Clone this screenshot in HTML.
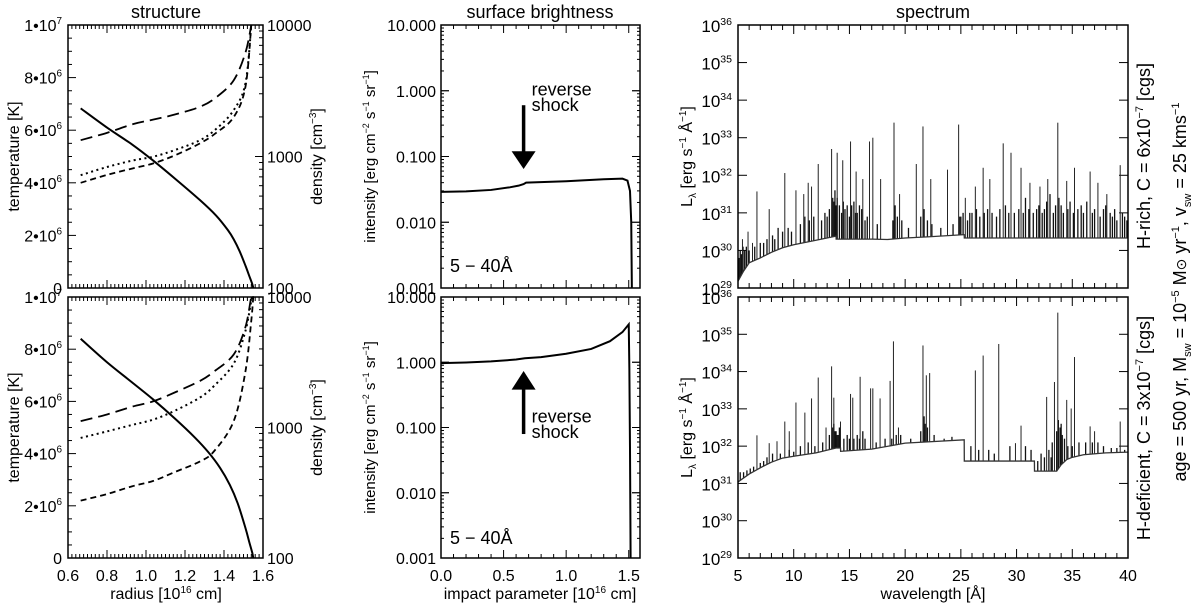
<!DOCTYPE html>
<html><head><meta charset="utf-8"><style>
html,body{margin:0;padding:0;background:#fff;}
svg{display:block;font-family:"Liberation Sans",Arial,sans-serif;}
</style></head><body>
<svg id="chart" width="1200" height="604" viewBox="0 0 1200 604" xmlns="http://www.w3.org/2000/svg"></svg>
<script>
// ---------- DATA ----------
const rTop = [0.665,0.8,0.93,1.036,1.15,1.277,1.36,1.42,1.45,1.48,1.51,1.53,1.545,1.55];
const tempTop = [6.83e6,6.1e6,5.45e6,4.85e6,4.15e6,3.34e6,2.75e6,2.2e6,1.85e6,1.4e6,0.85e6,0.45e6,0.15e6,0];
const rDen = [0.665,0.8,0.933,1.036,1.15,1.277,1.36,1.45,1.51,1.54];
const denLongTop = [3.124,3.18,3.246,3.28,3.32,3.378,3.45,3.58,3.79,4.0];
const denDotTop  = [2.858,2.92,2.97,2.998,3.05,3.124,3.21,3.353,3.556,4.0];
const denShortTop= [2.80,2.86,2.91,2.947,3.01,3.10,3.18,3.30,3.53,4.0];
const rBot = [0.665,0.8,0.93,1.036,1.15,1.25,1.32,1.38,1.43,1.47,1.51,1.53,1.545,1.55];
const tempBot = [8.4e6,7.5e6,6.72e6,6.08e6,5.33e6,4.62e6,4.05e6,3.45e6,2.8e6,2.1e6,1.15e6,0.6e6,0.2e6,0];
const rDenB = [0.665,0.8,0.93,1.036,1.15,1.277,1.35,1.45,1.51,1.54,1.55];
const denLongBot = [3.049,3.1,3.16,3.2,3.27,3.357,3.43,3.56,3.77,4.0,4.0];
const denDotBot  = [2.92,2.97,3.02,3.06,3.13,3.23,3.32,3.49,3.74,3.97,4.0];
const denShortBot= [2.44,2.49,2.55,2.59,2.66,2.74,2.82,3.05,3.43,3.82,4.0];
const bTop = [0,0.2,0.4,0.55,0.62,0.66,0.68,1.0,1.3,1.45,1.49,1.51,1.52,1.525];
const iTop = [0.029,0.0295,0.031,0.034,0.036,0.038,0.040,0.042,0.045,0.046,0.043,0.03,0.01,0.001];
const bBot = [0,0.2,0.4,0.6,0.67,0.8,1.0,1.2,1.35,1.45,1.5,1.505,1.51,1.515];
const iBot = [0.97,0.99,1.03,1.1,1.15,1.2,1.35,1.6,2.1,2.9,3.8,0.8,0.05,0.001];
const contLamTop=[5,5.5,6,7,8,9,10,12,13.8,13.81,17,18.4,18.41,20,22,25.3,25.31,40];
const contLogTop=[29.18,29.45,29.67,29.8,29.95,30.07,30.15,30.27,30.38,30.3,30.3,30.29,30.29,30.33,30.36,30.42,30.33,30.33];
const contLamBot=[5,6,7,8,9,10,12,13.8,14.2,14.21,17,20,25.3,25.31,31.6,31.61,33.6,34,34.5,35,36,38,40];
const contLogBot=[31.04,31.25,31.42,31.57,31.68,31.73,31.82,31.95,31.95,31.86,31.92,32.08,32.17,31.6,31.6,31.33,31.33,31.5,31.64,31.7,31.77,31.82,31.84];
const linesTop=[[6.7,31.57],[7.8,31.1],[9.2,32.06],[10.2,31.6],[11.3,31.8],[12.2,32.3],[13.4,32.7],[13.9,32.6],[15.1,32.9],[16.8,32.9],[17.1,33.0],[17.8,31.9],[19.0,33.4],[19.5,31.5],[21.0,32.3],[21.6,33.3],[23.8,32.15],[24.8,33.35],[26.3,31.7],[27.0,32.2],[28.8,32.85],[29.5,32.6],[30.4,32.2],[31.2,31.8],[32.1,31.7],[33.7,33.4],[34.5,31.85],[35.2,32.2],[36.6,32.1],[38.1,31.5],[39.3,32.27],[5.4,30.3],[5.9,30.5],[6.3,30.2],[10.9,31.5],[11.6,31.7],[14.4,32.4],[15.6,32.1],[16.2,31.9],[22.3,31.9],[25.4,31.4],[27.6,31.9],[32.8,31.9],[37.3,31.8]];
const forestTop=[[5.1,29.8],[5.2,30.0],[5.3,29.9],[5.45,30.1],[5.6,30.0],[5.75,30.1],[6.0,30.0],[6.5,30.1],[7.0,30.2],[7.3,30.2],[7.6,30.3],[8.1,30.4],[8.3,30.3],[8.6,30.6],[9.0,30.5],[9.5,30.6],[9.8,30.5],[10.6,30.7],[11.0,30.9],[11.4,30.8],[11.8,30.9],[12.5,30.8],[12.8,31.0],[13.0,30.9],[13.2,31.1],[13.5,31.4],[13.6,31.3],[13.7,31.6],[13.8,31.2],[13.9,31.4],[14.1,31.2],[14.3,31.0],[14.45,31.3],[14.6,31.1],[14.8,31.2],[15.0,30.9],[15.2,31.2],[15.4,31.3],[15.55,31.0],[15.7,31.0],[15.9,31.2],[16.1,31.1],[16.4,30.8],[16.6,30.9],[17.5,30.7],[18.9,30.8],[19.1,31.2],[19.3,30.9],[19.7,30.8],[20.3,30.6],[21.4,30.9],[21.7,31.1],[22.0,30.8],[22.4,30.7],[23.2,30.6],[24.3,30.7],[24.9,30.9],[25.0,30.9],[25.2,31.0],[25.6,30.8],[25.8,31.0],[26.0,31.0],[26.4,31.1],[26.7,30.9],[27.1,31.0],[27.4,31.1],[27.8,31.0],[28.2,30.9],[28.5,31.1],[29.0,31.2],[29.3,31.0],[29.8,31.0],[30.2,31.1],[30.6,31.0],[30.8,31.4],[31.1,31.1],[31.5,31.0],[31.8,31.1],[32.0,31.2],[32.3,31.0],[32.5,31.1],[32.7,31.3],[33.0,31.5],[33.3,31.0],[33.5,31.2],[33.8,31.4],[34.0,31.2],[34.2,31.0],[34.6,31.1],[34.8,31.3],[35.1,31.0],[35.5,31.1],[35.8,31.2],[36.0,31.0],[36.3,31.3],[36.8,31.0],[37.0,31.1],[37.5,30.9],[37.8,31.1],[38.0,31.2],[38.4,31.0],[38.6,30.9],[38.8,31.1],[39.0,30.8],[39.5,31.0],[39.7,30.9],[39.9,30.8]];
const linesBot=[[6.7,32.29],[7.8,32.08],[8.5,32.13],[9.2,32.66],[10.2,33.17],[11.0,32.9],[11.6,33.28],[12.2,33.84],[13.4,34.14],[14.2,32.66],[15.1,33.4],[15.96,33.86],[16.9,33.55],[17.1,33.55],[17.75,33.28],[18.65,33.75],[18.95,34.81],[19.4,32.5],[21.6,34.7],[21.9,33.9],[22.2,33.96],[26.3,34.03],[27.0,34.43],[28.4,34.74],[29.9,32.08],[30.4,32.55],[32.7,33.32],[33.4,33.72],[33.7,35.58],[34.5,33.24],[34.9,33.01],[35.2,34.39],[36.6,32.53],[37.0,32.4],[39.3,32.66],[13.6,33.3],[15.3,33.3],[12.9,32.5],[9.6,32.4]];
const forestBot=[[5.2,31.3],[5.5,31.3],[5.8,31.35],[6.1,31.4],[6.4,31.45],[7.0,31.55],[7.3,31.6],[7.6,31.7],[8.1,31.8],[8.8,31.8],[9.6,31.9],[10.0,31.85],[10.6,32.0],[11.3,32.1],[11.9,32.0],[12.6,32.1],[13.2,32.3],[13.5,32.5],[13.6,32.6],[13.7,32.4],[13.8,32.4],[13.9,32.3],[14.0,32.3],[14.1,32.5],[14.5,32.2],[14.8,32.3],[15.0,32.2],[15.4,32.2],[15.7,32.3],[15.9,32.2],[16.2,32.4],[16.4,32.2],[17.4,32.1],[18.2,32.2],[18.8,32.2],[19.2,32.3],[19.6,32.3],[20.5,32.2],[21.4,32.4],[21.7,32.8],[21.8,32.6],[22.0,32.5],[22.6,32.3],[23.5,32.2],[24.2,32.25],[25.9,32.0],[26.6,31.9],[27.5,31.9],[28.0,31.8],[29.4,32.0],[30.8,32.0],[31.3,31.9],[31.9,31.6],[32.2,31.8],[32.5,31.7],[32.9,31.9],[33.1,31.7],[33.2,32.1],[33.6,32.4],[33.75,32.7],[33.9,32.5],[34.0,32.6],[34.1,32.3],[34.3,32.2],[34.6,32.0],[35.0,32.0],[35.6,32.1],[36.2,32.1],[36.8,32.1],[37.3,32.1],[37.8,32.0],[38.5,31.95],[39.0,31.95],[39.7,31.9]];
const tempTicks=[0,2e6,4e6,6e6,8e6,1e7];
const tempTickLabels=[["0",""],["2•10","6"],["4•10","6"],["6•10","6"],["8•10","6"],["1•10","7"]];
const rTicks=[0.6,0.8,1.0,1.2,1.4,1.6];
const rTickLabels=["0.6","0.8","1.0","1.2","1.4","1.6"];
const denTickLabels=["100","1000","10000"];
const iTickLabels=["0.001","0.010","0.100","1.000","10.000"];
const bTicks=[0,0.5,1.0,1.5];
const bTickLabels=["0.0","0.5","1.0","1.5"];
const lamTicks=[5,10,15,20,25,30,35,40];
const lamTickLabels=["5","10","15","20","25","30","35","40"];
const specDecades=[29,30,31,32,33,34,35,36];

// ---------- HELPERS ----------
const NS="http://www.w3.org/2000/svg";
const svg=document.getElementById('chart');
function mk(tag,attrs,parent){const e=document.createElementNS(NS,tag);for(const k in attrs)e.setAttribute(k,attrs[k]);(parent||svg).appendChild(e);return e;}
const PANELS={top:[25,288],bot:[297,558]};
const LX=[68,263], MX=[441,640], SX=[738,1128];
function lin(d0,d1,r0,r1){return v=>r0+(v-d0)/(d1-d0)*(r1-r0);}
function interp(xs,ys,x){for(let i=0;i<xs.length-1;i++){if(x>=xs[i]&&x<=xs[i+1]){const t=(x-xs[i])/(xs[i+1]-xs[i]||1);return ys[i]+t*(ys[i+1]-ys[i]);}}return x<xs[0]?ys[0]:ys[ys.length-1];}
function smoothPath(pts){let d="M"+pts[0][0]+","+pts[0][1];for(let i=0;i<pts.length-1;i++){const p0=pts[i-1]||pts[i],p1=pts[i],p2=pts[i+1],p3=pts[i+2]||p2;const c1x=p1[0]+(p2[0]-p0[0])/6,c1y=p1[1]+(p2[1]-p0[1])/6,c2x=p2[0]-(p3[0]-p1[0])/6,c2y=p2[1]-(p3[1]-p1[1])/6;d+=`C${c1x.toFixed(2)},${c1y.toFixed(2)} ${c2x.toFixed(2)},${c2y.toFixed(2)} ${p2[0].toFixed(2)},${p2[1].toFixed(2)}`;}return d;}
function polyPath(pts){return "M"+pts.map(p=>p[0].toFixed(2)+","+p[1].toFixed(2)).join("L");}
function txt(x,y,s,attrs){const t=mk('text',Object.assign({x:x,y:y,'font-size':16,fill:'#000'},attrs||{}));t.textContent=s;return t;}
function supText(x,y,base,sup,anchor,size){const t=mk('text',{x:x,y:y,'font-size':size||16,'text-anchor':anchor||'end',fill:'#000'});const a=mk('tspan',{},t);a.textContent=base;if(sup){const b=mk('tspan',{dy:-7,'font-size':(size||16)*0.62},t);b.textContent=sup;}return t;}
function tick(x1,y1,x2,y2,name){const l=mk('line',{x1:x1,y1:y1,x2:x2,y2:y2,stroke:'#000','stroke-width':1});return l;}
function box(x0,x1,y0,y1,name){const r=mk('rect',{x:x0,y:y0,width:x1-x0,height:y1-y0,fill:'none',stroke:'#000','stroke-width':1.5});}

// ---------- TITLES ----------
let t;
t=txt(166,18,"structure",{'text-anchor':'middle','font-size':18});

t=txt(540,18,"surface brightness",{'text-anchor':'middle','font-size':18});

t=txt(933,18,"spectrum",{'text-anchor':'middle','font-size':18});


// ---------- STRUCTURE PANELS ----------
function structurePanel(key,rT,temps,rD,dl,dd,ds){
  const [y0,y1]=PANELS[key];
  const X=lin(0.6,1.6,LX[0],LX[1]), YT=lin(0,1e7,y1,y0), YD=lin(2,4,y1,y0);
  box(LX[0],LX[1],y0,y1,'structure-'+key+'-frame');
  for(let v=0.6;v<=1.6001;v+=0.02){const x=X(v);const maj=Math.abs(v*10-Math.round(v*10))<1e-6&&Math.round(v*10)%2===0;const L=maj?8:4;tick(x,y1,x,y1-L,'r-tick');tick(x,y0,x,y0+L,'r-tick');}
  for(let v=0;v<=1e7;v+=5e5){const y=YT(v);const L=(v%2e6===0)?8:4;tick(LX[0],y,LX[0]+L,y,'temp-tick');}
  for(let d=2;d<4;d++){for(let m=1;m<=10;m++){const lv=d+Math.log10(m);const y=YD(lv);const L=(m===1||m===10)?8:4;tick(LX[1],y,LX[1]-L,y,'density-tick');}}
  tempTicks.forEach((v,i)=>{const s=supText(62,YT(v)+6,tempTickLabels[i][0],tempTickLabels[i][1],'end',16);});
  denTickLabels.forEach((s,i)=>{const e=txt(267,YD(2+i)+6,s);});
  let p=mk('path',{d:smoothPath(rT.map((r,i)=>[X(r),YT(temps[i])])),fill:'none',stroke:'#000','stroke-width':2});
  
  p=mk('path',{d:smoothPath(rD.map((r,i)=>[X(r),YD(dl[i])])),fill:'none',stroke:'#000','stroke-width':1.8,'stroke-dasharray':'12,6'});
  
  p=mk('path',{d:smoothPath(rD.map((r,i)=>[X(r),YD(dd[i])])),fill:'none',stroke:'#000','stroke-width':2,'stroke-dasharray':'2,3.5'});
  
  p=mk('path',{d:smoothPath(rD.map((r,i)=>[X(r),YD(ds[i])])),fill:'none',stroke:'#000','stroke-width':1.8,'stroke-dasharray':'6,4'});
  
  const yl=txt(0,0,"temperature [K]",{'text-anchor':'middle','font-size':16,transform:`translate(19,${(y0+y1)/2}) rotate(-90)`});
  
  const dt=mk('text',{'text-anchor':'middle','font-size':16,transform:`translate(322,${(y0+y1)/2}) rotate(-90)`});
  
  const a=mk('tspan',{},dt);a.textContent="density [cm";const b=mk('tspan',{dy:-6,'font-size':10},dt);b.textContent="−3";const c=mk('tspan',{dy:6},dt);c.textContent="]";
  if(key==='bot'){rTicks.forEach((v,i)=>{const e=txt(X(v),581,rTickLabels[i],{'text-anchor':'middle'});});}
}
structurePanel('top',rTop,tempTop,rDen,denLongTop,denDotTop,denShortTop);
structurePanel('bot',rBot,tempBot,rDenB,denLongBot,denDotBot,denShortBot);
let xt=mk('text',{x:166,y:599,'text-anchor':'middle','font-size':16});

(function(){const a=mk('tspan',{},xt);a.textContent="radius [10";const b=mk('tspan',{dy:-6,'font-size':10},xt);b.textContent="16";const c=mk('tspan',{dy:6},xt);c.textContent=" cm]";})();

// ---------- SURFACE BRIGHTNESS ----------
function sbPanel(key,bs,is,arrowUp){
  const [y0,y1]=PANELS[key];
  const X=lin(0,1.59,MX[0],MX[1]), Y=lin(-3,1,y1,y0);
  box(MX[0],MX[1],y0,y1,'sb-'+key+'-frame');
  for(let v=0;v<=1.59;v+=0.1){const x=X(v);const maj=Math.round(v*10)%5===0;const L=maj?8:4;tick(x,y1,x,y1-L,'b-tick');tick(x,y0,x,y0+L,'b-tick');}
  for(let d=-3;d<1;d++){for(let m=1;m<=10;m++){const y=Y(d+Math.log10(m));const L=(m===1||m===10)?8:3;tick(MX[0],y,MX[0]+L,y,'i-tick');tick(MX[1],y,MX[1]-L,y,'i-tick');}}
  iTickLabels.forEach((s,i)=>{const e=txt(436,Y(-3+i)+6,s,{'text-anchor':'end'});});
  const p=mk('path',{d:polyPath(bs.map((b,i)=>[X(b),Y(Math.log10(is[i]))])),fill:'none',stroke:'#000','stroke-width':2});
  
  const band=txt(450,272+(key==='bot'?y0-25:0),"5 − 40Å",{'font-size':18});
  
  const ax=X(0.66);
  let g=mk('g',{});
  if(!arrowUp){mk('line',{x1:ax,y1:Y(-0.22),x2:ax,y2:Y(-0.95),stroke:'#000','stroke-width':3.5},g);mk('polygon',{points:`${ax-12},${Y(-0.92)} ${ax+12},${Y(-0.92)} ${ax},${Y(-1.19)}`,fill:'#000'},g);
    let a=txt(ax+8,Y(-0.07),"reverse",{'font-size':18});
    a=txt(ax+8,Y(-0.31),"shock",{'font-size':18});}
  else{mk('line',{x1:ax,y1:Y(-1.1),x2:ax,y2:Y(-0.4),stroke:'#000','stroke-width':3.5},g);mk('polygon',{points:`${ax-12},${Y(-0.42)} ${ax+12},${Y(-0.42)} ${ax},${Y(-0.135)}`,fill:'#000'},g);
    let a=txt(ax+8,Y(-0.92),"reverse",{'font-size':18});
    a=txt(ax+8,Y(-1.16),"shock",{'font-size':18});}
  const yl=mk('text',{'text-anchor':'middle','font-size':15,transform:`translate(375,${(y0+y1)/2}) rotate(-90)`});
  
  [["intensity [erg cm",0],["−2",-6],[" s",6],["−1",-6],[" sr",6],["−1",-6],["]",6]].forEach(([s,dy])=>{const sp=mk('tspan',{dy:dy,'font-size':dy<0?9:15},yl);sp.textContent=s;});
  if(key==='bot'){bTicks.forEach((v,i)=>{const e=txt(X(v),581,bTickLabels[i],{'text-anchor':'middle'});});}
}
sbPanel('top',bTop,iTop,false);
sbPanel('bot',bBot,iBot,true);
xt=mk('text',{x:540,y:599,'text-anchor':'middle','font-size':16});

(function(){const a=mk('tspan',{},xt);a.textContent="impact parameter [10";const b=mk('tspan',{dy:-6,'font-size':10},xt);b.textContent="16";const c=mk('tspan',{dy:6},xt);c.textContent=" cm]";})();

// ---------- SPECTRUM ----------
function specPanel(key,cl,cg,lines,forest){
  const [y0,y1]=PANELS[key];
  const X=lin(5,40,SX[0],SX[1]), Y=lin(29,36,y1,y0);
  for(let v=5;v<=40;v++){const x=X(v);const L=(v%5===0)?9:5;tick(x,y1,x,y1-L,'lambda-tick');tick(x,y0,x,y0+L,'lambda-tick');}
  specDecades.forEach(d=>{const y=Y(d);tick(SX[0],y,SX[0]+9,y,'L-tick');tick(SX[1],y,SX[1]-9,y,'L-tick');
    const s=supText(732,y+7,"10",String(d),'end',17);});
  const g=mk('g',{});
  forest.forEach(([l,h])=>{const base=interp(cl,cg,l);const e=mk('line',{x1:X(l),x2:X(l),y1:Y(base),y2:Y(h),stroke:'#111','stroke-width':1.3},g);
    });
  lines.forEach(([l,h])=>{const base=interp(cl,cg,l);const e=mk('line',{x1:X(l),x2:X(l),y1:Y(base),y2:Y(h),stroke:'#222','stroke-width':1},g);
    });
  const c=mk('path',{d:polyPath(cl.map((l,i)=>[X(l),Y(cg[i])])),fill:'none',stroke:'#333','stroke-width':1.3},g);
  
  box(SX[0],SX[1],y0,y1,'spectrum-'+key+'-frame');
  const yl=mk('text',{'text-anchor':'middle','font-size':16,transform:`translate(692,${(y0+y1)/2}) rotate(-90)`});
  
  [["L",0],["λ",4],[" [erg s",-4],["−1",-6],[" Å",6],["−1",-6],["]",6]].forEach(([s,dy])=>{const sp=mk('tspan',{dy:dy,'font-size':(s==="−1"||s==="λ")?10:16},yl);sp.textContent=s;});
  if(key==='bot'){lamTicks.forEach((v,i)=>{const e=txt(X(v),581,lamTickLabels[i],{'text-anchor':'middle'});});}
}
specPanel('top',contLamTop,contLogTop,linesTop,forestTop);
specPanel('bot',contLamBot,contLogBot,linesBot,forestBot);
xt=txt(933,599,"wavelength [Å]",{'text-anchor':'middle'});


// ---------- RIGHT SIDE LABELS ----------
function rotLabel(x,y,parts,name){const e=mk('text',{'text-anchor':'middle','font-size':18,transform:`translate(${x},${y}) rotate(-90)`});
  
  parts.forEach(([s,dy,sz])=>{const sp=mk('tspan',{dy:dy,'font-size':sz||18},e);sp.textContent=s;});}
rotLabel(1150,156,[["H-rich, C = 6x10",0],["−7",-7,11],[" [cgs]",7]],'h-rich-label');
rotLabel(1150,428,[["H-deficient, C = 3x10",0],["−7",-7,11],[" [cgs]",7]],'h-deficient-label');
rotLabel(1186,292,[["age = 500 yr, M",0],["sw",5,11],[" = 10",-5],["−5",-7,11],[" M",7],["⊙",0,14],[" yr",0],["−1",-7,11],[", v",7],["sw",5,11],[" = 25 kms",-5],["−1",-7,11]],'model-parameters-label');
</script>
</body></html>
